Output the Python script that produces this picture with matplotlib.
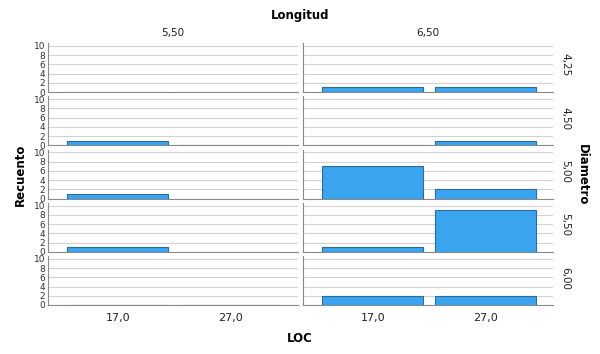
import matplotlib
matplotlib.use("Agg")
import matplotlib.pyplot as plt
import numpy as np

# panel categories
longitud = ["5,50", "6,50"]
diametro = ["4,25", "4,50", "5,00", "5,50", "6,00"]
loc_labels = ["17,0", "27,0"]

# counts per (diametro row, longitud column) -> [LOC 17, LOC 27]
counts_550 = [[0, 0], [1, 0], [1, 0], [1, 0], [0, 0]]
counts_650 = [[1, 1], [0, 1], [7, 2], [1, 9], [2, 2]]

W, H = 600, 354
fig = plt.figure(figsize=(W / 100, H / 100), dpi=100)

bar_face = "#3aa5ee"
bar_edge = "#2d6b98"
grid_col = "#d2d2d2"
axis_col = "#8a8a8a"

col_x = [48, 303]
col_w = 250
row_bottom0 = 92
row_step = 53.25
row_h = 49

x = np.arange(len(loc_labels))

for c, data in enumerate([counts_550, counts_650]):
    for r in range(len(diametro)):
        bpx = row_bottom0 + row_step * r
        ax = fig.add_axes([col_x[c] / W, 1 - bpx / H, col_w / W, row_h / H])
        ax.bar(x, data[r], width=0.9, color=bar_face, edgecolor=bar_edge,
               linewidth=0.8, zorder=3)
        ax.set_xlim(-0.62, 1.6)
        ax.set_ylim(0, 10.6)
        ax.set_yticks([0, 2, 4, 6, 8, 10])
        ax.yaxis.grid(True, color=grid_col, linewidth=0.8, zorder=0)
        ax.set_axisbelow(True)
        for s in ["top", "right"]:
            ax.spines[s].set_visible(False)
        ax.spines["left"].set_color(axis_col)
        ax.spines["bottom"].set_color(axis_col)
        ax.spines["left"].set_linewidth(0.8)
        ax.spines["bottom"].set_linewidth(0.8)
        ax.tick_params(axis="y", length=0, labelsize=6.5, pad=2,
                       labelcolor="#333333", labelleft=(c == 0))
        ax.tick_params(axis="x", length=0)
        if r == len(diametro) - 1:
            ax.set_xticks(x)
            ax.set_xticklabels(loc_labels, fontsize=8, color="#222222")
            ax.tick_params(axis="x", pad=6)
        else:
            ax.set_xticks([])
        if r == 0:
            ax.set_title(longitud[c], fontsize=7.5, color="#222222", pad=5)
        if c == 1:
            ax.text(1.03, 0.55, diametro[r], transform=ax.transAxes,
                    rotation=-90, fontsize=7.5, color="#222222",
                    va="center", ha="left")

fig.text(300 / W, 1 - 15 / H, "Longitud", fontsize=8.5, fontweight="bold",
         ha="center", va="center")
fig.text(300 / W, 1 - 338 / H, "LOC", fontsize=8.5, fontweight="bold",
         ha="center", va="center")
fig.text(20 / W, 1 - 175 / H, "Recuento", fontsize=8.5, fontweight="bold",
         ha="center", va="center", rotation=90)
fig.text(582 / W, 1 - 175 / H, "Diametro", fontsize=8.5, fontweight="bold",
         ha="center", va="center", rotation=-90)

fig.savefig("out.png", dpi=100)
